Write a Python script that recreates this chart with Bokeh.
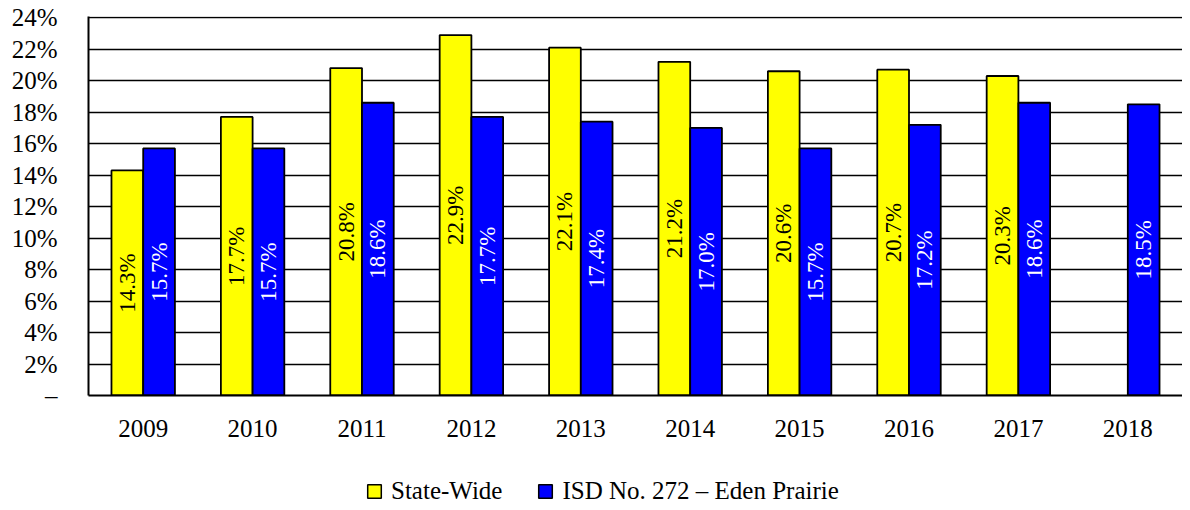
import math
from bokeh.plotting import figure
from bokeh.layouts import column
from bokeh.models import ColumnDataSource, FactorRange, Range1d, Legend, LegendItem, FixedTicker
from bokeh.transform import dodge
from bokeh.core.properties import value
from bokeh.embed import file_html
from bokeh.resources import INLINE

years = ["2009", "2010", "2011", "2012", "2013", "2014", "2015", "2016", "2017", "2018"]
state_wide = [14.3, 17.7, 20.8, 22.9, 22.1, 21.2, 20.6, 20.7, 20.3, float("nan")]
eden_prairie = [15.7, 15.7, 18.6, 17.7, 17.4, 17.0, 15.7, 17.2, 18.6, 18.5]
y_ticks = [0, 2, 4, 6, 8, 10, 12, 14, 16, 18, 20, 22, 24]
series_names = ["State-Wide", "ISD No. 272 \u2013 Eden Prairie"]

FONT = "'Liberation Serif', 'Times New Roman', serif"
YELLOW = "#FFFF00"
BLUE = "#0000FF"

def fmt(v):
    return "" if v != v else f"{v:.1f}%"

src = ColumnDataSource(dict(
    year=years,
    state=state_wide,
    isd=eden_prairie,
    state_mid=[v / 2 for v in state_wide],
    isd_mid=[v / 2 for v in eden_prairie],
    state_lbl=[fmt(v) for v in state_wide],
    isd_lbl=[fmt(v) for v in eden_prairie],
))

p = figure(width=1182, height=472, x_range=FactorRange(*years, range_padding=0),
           y_range=Range1d(0, 24.08), output_backend="svg", toolbar_location=None,
           min_border_left=88, min_border_right=0, min_border_top=16, min_border_bottom=77)

bw = 0.29
r1 = p.vbar(x=dodge("year", -bw / 2, range=p.x_range), top="state", width=bw, source=src,
            fill_color=YELLOW, line_color="black", line_width=1.8)
r2 = p.vbar(x=dodge("year", bw / 2, range=p.x_range), top="isd", width=bw, source=src,
            fill_color=BLUE, line_color="black", line_width=1.8)

p.text(x=dodge("year", -bw / 2, range=p.x_range), y="state_mid", text="state_lbl", source=src,
       angle=math.pi / 2, text_align="center", text_baseline="middle",
       text_font=value(FONT), text_font_size="23px", text_color="black")
p.text(x=dodge("year", bw / 2, range=p.x_range), y="isd_mid", text="isd_lbl", source=src,
       angle=math.pi / 2, text_align="center", text_baseline="middle",
       text_font=value(FONT), text_font_size="23px", text_color="white")

p.xgrid.grid_line_color = None
p.ygrid.grid_line_color = "black"
p.ygrid.grid_line_width = 1.6
p.ygrid.ticker = FixedTicker(ticks=y_ticks)
p.outline_line_color = None

p.yaxis.ticker = FixedTicker(ticks=y_ticks)
p.yaxis.major_label_overrides = {t: ("\u2013" if t == 0 else f"{t}%") for t in y_ticks}
p.yaxis.major_tick_line_color = None
p.yaxis.minor_tick_line_color = None
p.yaxis.axis_line_color = "black"
p.yaxis.axis_line_width = 2
p.yaxis.major_label_standoff = 25
p.yaxis.major_label_text_font = FONT
p.yaxis.major_label_text_font_size = "25px"
p.yaxis.major_label_text_color = "black"

p.xaxis.major_tick_line_color = None
p.xaxis.minor_tick_line_color = None
p.xaxis.axis_line_color = "black"
p.xaxis.axis_line_width = 2
p.xaxis.major_label_standoff = 18
p.xaxis.major_label_text_font = FONT
p.xaxis.major_label_text_font_size = "25px"
p.xaxis.major_label_text_color = "black"

# legend strip below the chart
lg = figure(width=1182, height=36, x_range=Range1d(0, 1), y_range=Range1d(0, 1),
            x_axis_location=None, y_axis_location=None,
            output_backend="svg", toolbar_location=None,
            min_border_left=0, min_border_right=0, min_border_top=0, min_border_bottom=0)
lg.grid.visible = False
lg.outline_line_color = None
d1 = lg.scatter(x=[-10], y=[-10], marker="square", size=13,
                fill_color=YELLOW, line_color="black", line_width=1.5)
d2 = lg.scatter(x=[-10], y=[-10], marker="square", size=13,
                fill_color=BLUE, line_color="black", line_width=1.5)
legend = Legend(items=[LegendItem(label=series_names[0], renderers=[d1]),
                       LegendItem(label=series_names[1], renderers=[d2])],
                orientation="horizontal", location=(269, 0),
                label_text_font=FONT, label_text_font_size="25px", label_text_color="black",
                glyph_width=34, glyph_height=34, label_standoff=0, spacing=26,
                border_line_color=None, background_fill_alpha=0, padding=0, margin=0)
lg.add_layout(legend, "center")

open("out.html", "w").write(file_html(column(p, lg, spacing=0), INLINE))
